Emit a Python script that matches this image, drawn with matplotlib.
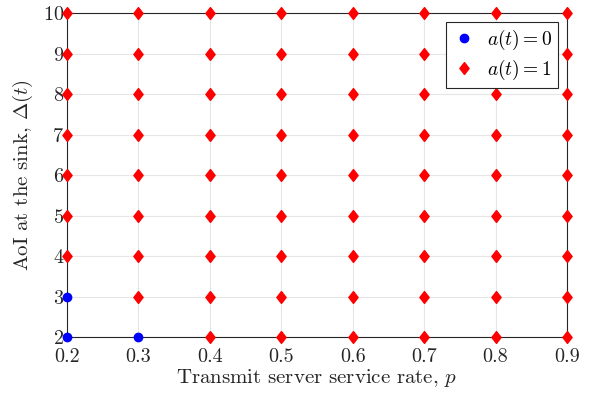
import matplotlib.pyplot as plt
from matplotlib.path import Path
import numpy as np

plt.rcParams['font.family'] = 'cmr10'
plt.rcParams['mathtext.fontset'] = 'cm'
plt.rcParams['axes.formatter.use_mathtext'] = True

# service rates and AoI values
p_vals = [0.2, 0.3, 0.4, 0.5, 0.6, 0.7, 0.8, 0.9]
aoi_vals = [2, 3, 4, 5, 6, 7, 8, 9, 10]

# points where the optimal action is a(t)=0
idle_p = [0.2, 0.2, 0.3]
idle_aoi = [2, 3, 2]

send_p = []
send_aoi = []
for p in p_vals:
    for a in aoi_vals:
        if not any(p == ip and a == ia for ip, ia in zip(idle_p, idle_aoi)):
            send_p.append(p)
            send_aoi.append(a)

# matlab-like diamond (a bit taller than wide)
diamond = Path([(0, 1), (0.78, 0), (0, -1), (-0.78, 0), (0, 1)],
               [Path.MOVETO, Path.LINETO, Path.LINETO, Path.LINETO, Path.CLOSEPOLY])

fig = plt.figure(figsize=(5.9, 3.96), dpi=100)
ax = fig.add_axes([0.1136, 0.149, 0.8475, 0.818])

ax.grid(True, color='#e6e6e6', linewidth=0.8, zorder=0)
ax.plot(idle_p, idle_aoi, 'o', color='blue', markersize=6, label=r'$a(t)=0$', zorder=3, clip_on=False)
ax.plot(send_p, send_aoi, marker=diamond, linestyle='none', color='red', markersize=8.5,
        label=r'$a(t)=1$', zorder=3, clip_on=False)

ax.set_xlim(0.2, 0.9)
ax.set_ylim(2, 10)
ax.set_xticks(p_vals)
ax.set_xticklabels(['0.2', '0.3', '0.4', '0.5', '0.6', '0.7', '0.8', '0.9'])
ax.set_yticks(aoi_vals)
ax.tick_params(length=0, labelsize=14.5, colors='#262626')
ax.tick_params(axis='x', pad=8)
ax.tick_params(axis='y', pad=2)
for s in ax.spines.values():
    s.set_color('#262626')
    s.set_linewidth(0.8)

ax.set_xlabel(r'Transmit server service rate, $p$', fontsize=15, color='#262626', labelpad=1)
ax.set_ylabel(r'AoI at the sink, $\Delta(t)$', fontsize=15, color='#262626', labelpad=6)

leg = ax.legend(loc='upper right', fontsize=14, fancybox=False, edgecolor='#262626',
                framealpha=1, borderaxespad=0.45, handletextpad=0.6, handlelength=1.2,
                borderpad=0.3, labelspacing=0.3)
leg.get_frame().set_linewidth(0.8)
leg.set_zorder(10)

plt.savefig('out.png', dpi=100)
